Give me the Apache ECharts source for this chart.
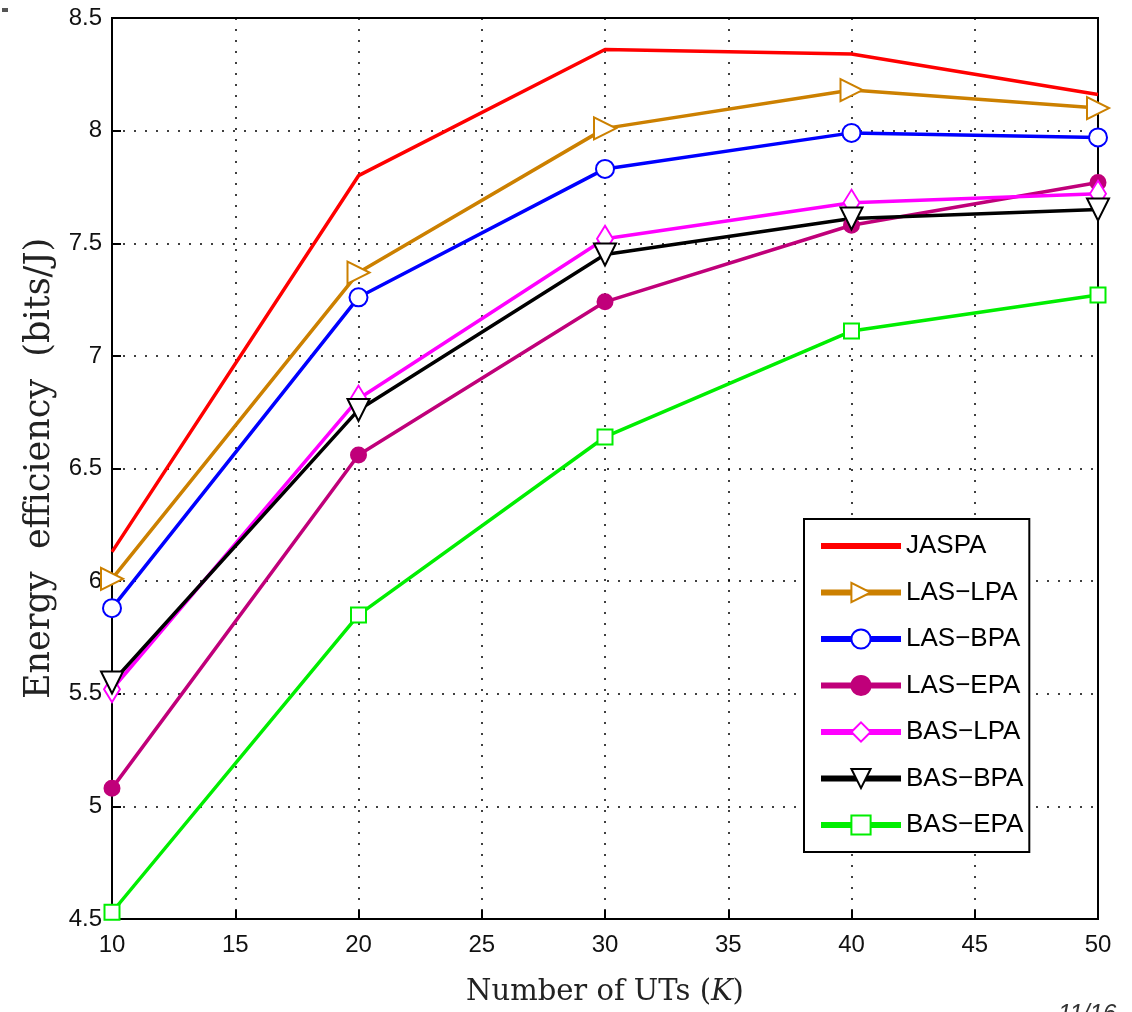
<!DOCTYPE html>
<html>
<head>
<meta charset="utf-8">
<script src="https://cdn.jsdelivr.net/npm/echarts@6/dist/echarts.min.js"></script>
<style>
  html, body { margin: 0; padding: 0; background: #fff; }
  #chart { width: 1132px; height: 1012px; }
</style>
</head>
<body>
<div id="chart"></div>
<script>
const users = [10, 20, 30, 40, 50]
const jaspa = [6.13, 7.80, 8.36, 8.34, 8.16]
const lasLpa = [6.01, 7.37, 8.01, 8.18, 8.10]
const lasBpa = [5.88, 7.26, 7.83, 7.99, 7.97]
const lasEpa = [5.08, 6.56, 7.24, 7.58, 7.77]
const basLpa = [5.52, 6.81, 7.52, 7.68, 7.72]
const basBpa = [5.55, 6.76, 7.45, 7.61, 7.65]
const basEpa = [4.53, 5.85, 6.64, 7.11, 7.27]

const pair = (vals) => users.map((x, i) => [x, vals[i]])

function line(name, vals, color, symbol, size, rotate) {
  return {
    name,
    type: 'line',
    data: pair(vals),
    symbol,
    symbolSize: size,
    symbolRotate: rotate || 0,
    showAllSymbol: true,
    lineStyle: { color, width: 3.5 },
    itemStyle: { color, borderColor: color, borderWidth: 3 },
    emphasis: { disabled: true },
    z: 3
  }
}

const chart = echarts.init(document.getElementById('chart'))
chart.setOption({
  animation: false,
  grid: {
    left: 112, right: 34, top: 18, bottom: 92,
    show: true, borderColor: '#000', borderWidth: 2, backgroundColor: '#fff'
  },
  xAxis: {
    type: 'value', min: 10, max: 50, interval: 5,
    name: 'Number of UTs ({k|K})',
    nameLocation: 'middle', nameGap: 59,
    nameTextStyle: {
      fontFamily: 'DejaVu Serif', fontSize: 29, color: '#222',
      rich: { k: { fontFamily: 'DejaVu Serif', fontStyle: 'italic', fontSize: 29, color: '#222' } }
    },
    axisLine: { lineStyle: { color: '#000', width: 2 } },
    axisTick: { inside: true, length: 9, lineStyle: { color: '#000', width: 2 } },
    axisLabel: { fontFamily: 'Liberation Sans', fontSize: 24, color: '#111', margin: 14 },
    splitLine: { show: true, lineStyle: { color: '#000', type: [2, 9], width: 1.5 } }
  },
  yAxis: {
    type: 'value', min: 4.5, max: 8.5, interval: 0.5,
    name: 'Energy  efficiency  (bits/J)',
    nameLocation: 'middle', nameGap: 52,
    nameTextStyle: { fontFamily: 'DejaVu Serif', fontSize: 35, color: '#222' },
    axisLine: { show: true, lineStyle: { color: '#000', width: 2 } },
    axisTick: { show: true, inside: true, length: 9, lineStyle: { color: '#000', width: 2 } },
    axisLabel: { fontFamily: 'Liberation Sans', fontSize: 24, color: '#111', margin: 10 },
    splitLine: { show: true, lineStyle: { color: '#000', type: [2, 9], width: 1.5 } }
  },
  legend: {
    orient: 'vertical',
    left: 804, top: 519,
    padding: [14, 6, 14, 14],
    backgroundColor: '#fff',
    borderColor: '#000', borderWidth: 2,
    itemWidth: 80, itemHeight: 24, itemGap: 20.5,
    lineStyle: { width: 6 },
    textStyle: { fontFamily: 'Liberation Sans', fontSize: 26, color: '#000' },
    data: [
      { name: 'JASPA', itemStyle: { opacity: 0 } },
      'LAS\u2212LPA', 'LAS\u2212BPA', 'LAS\u2212EPA', 'BAS\u2212LPA', 'BAS\u2212BPA', 'BAS\u2212EPA'
    ]
  },
  series: [
    line('JASPA', jaspa, '#ff0000', 'none', 0),
    line('LAS\u2212LPA', lasLpa, '#cc8000', 'emptyTriangle', 22, -90),
    line('LAS\u2212BPA', lasBpa, '#0000ff', 'emptyCircle', 18),
    line('LAS\u2212EPA', lasEpa, '#c0007a', 'circle', 14),
    line('BAS\u2212LPA', basLpa, '#ff00ff', 'emptyDiamond', [16, 26]),
    line('BAS\u2212BPA', basBpa, '#000000', 'emptyTriangle', 22, 180),
    line('BAS\u2212EPA', basEpa, '#00ee00', 'emptyRect', 15)
  ],
  graphic: [
    { type: 'rect', left: 2, top: 8, shape: { width: 6, height: 4 }, style: { fill: '#555' } },
    { type: 'text', left: 1058, top: 1002, style: { text: '11/16', font: 'italic 24px Liberation Sans', fill: '#333' } }
  ]
})
</script>
</body>
</html>
